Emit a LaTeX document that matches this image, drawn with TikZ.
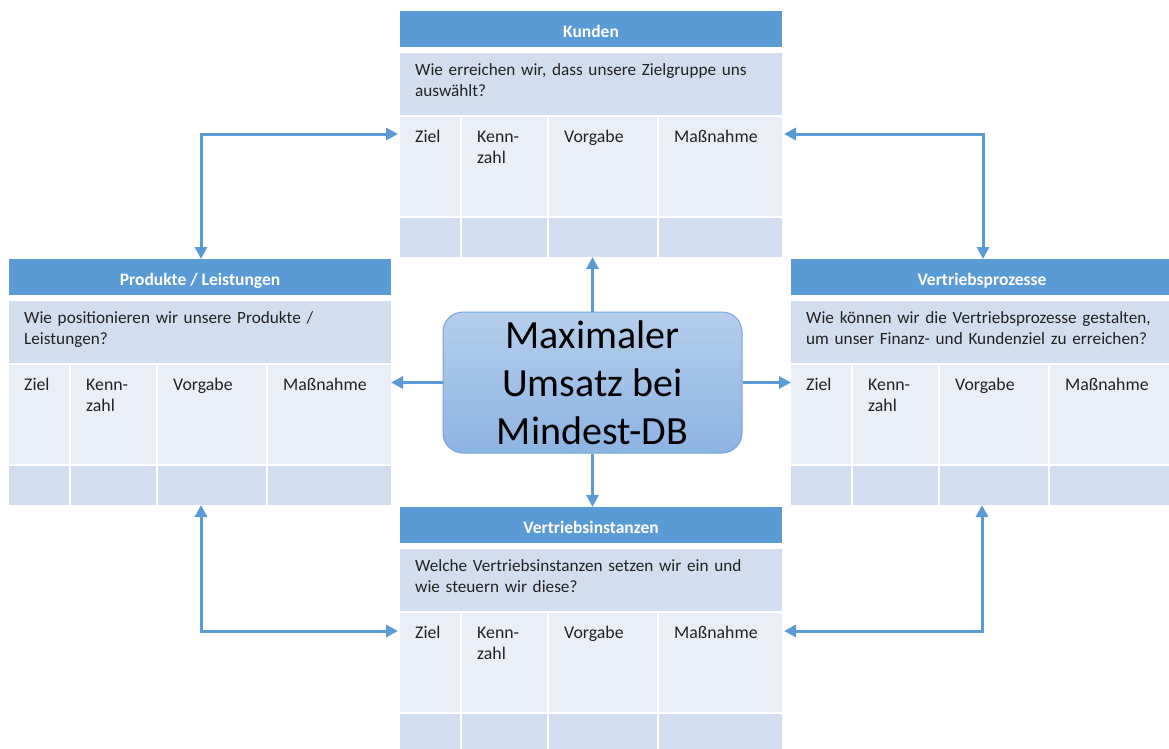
\documentclass[tikz,border=0pt]{standalone}
\usepackage{fontspec}
\setmainfont{Carlito}
\usetikzlibrary{arrows.meta,calc}

\definecolor{hdrblue}{HTML}{5B9BD5}
\definecolor{rowdark}{HTML}{D2DEEF}
\definecolor{rowlight}{HTML}{EAEFF7}
\definecolor{txt}{HTML}{222222}
\definecolor{hubtop}{HTML}{B5CEEB}
\definecolor{hubbot}{HTML}{8DB4E2}
\definecolor{hubline}{HTML}{76A5DA}

\tikzset{
  cell/.style={anchor=north west, inner sep=0pt, outer sep=0pt},
  hdr/.style={cell, fill=hdrblue, text=white,
    font=\fontsize{17.5}{20}\selectfont\bfseries,
    text height=16.5pt, text depth=0pt,
    minimum width=382pt, minimum height=36pt},
  qrow/.style={cell, fill=rowdark, minimum width=382pt, minimum height=62pt},
  mcell/.style={cell, fill=rowlight, minimum height=99pt},
  bcell/.style={cell, fill=rowdark, minimum height=39pt},
  qtext/.style={anchor=north west, inner sep=0pt, text width=370pt, align=left,
    font=\fontsize{17.2}{21}\selectfont, text=txt},
  lbl/.style={anchor=north west, inner sep=0pt, align=left,
    font=\fontsize{17.8}{20.7}\selectfont, text=txt},
  link/.style={draw=hdrblue, line width=3pt, -{Triangle[length=12pt,width=12pt]}},
  twoway/.style={draw=hdrblue, line width=3pt,
    {Triangle[length=12pt,width=12pt]}-{Triangle[length=12pt,width=12pt]}},
  hub/.style={rounded corners=20pt, minimum width=299pt, minimum height=141pt,
    top color=hubtop, bottom color=hubbot, draw=hubline, line width=1pt,
    align=center, inner sep=0pt, font=\fontsize{40}{48}\selectfont, text=black},
}

% one scorecard: name, left x, top y, title, guiding question
\newcommand\card[5]{%
  \node[hdr] (#1-h) at (#2,#3) {#4};
  \node[qrow] (#1-q) at (#2,#3+42) {};
  \node[qtext] (#1-qt) at (#2+15,#3+50) {\strut #5};
  \foreach \cn/\cx/\cw/\cl in {1/0/60/Ziel, 2/62/85/{Kenn-\\zahl}, 3/149/108/Vorgabe, 4/259/123/Maßnahme} {
    \node[mcell, minimum width=\cw pt] (#1-m\cn) at (#2+\cx,#3+106) {};
    \node[bcell, minimum width=\cw pt] (#1-b\cn) at (#2+\cx,#3+207) {};
    \node[lbl] (#1-l\cn) at (#2+\cx+15,#3+116.7) {\strut\cl};
  }%
}

\begin{document}
\begin{tikzpicture}[x=1pt,y=-1pt]
  \fill[white] (0,0) rectangle (1169,749);
  \useasboundingbox (0,0) rectangle (1169,749);

  \card{kd}{400}{11}{Kunden}{Wie erreichen wir, dass unsere Zielgruppe uns\\auswählt?}
  \card{pl}{9}{259}{Produkte / Leistungen}{Wie positionieren wir unsere Produkte /\\Leistungen?}
  \card{vp}{791}{259}{Vertriebsprozesse}{Wie können wir die Vertriebsprozesse gestalten,\\um unser Finanz- und Kundenziel zu erreichen?}
  \card{vi}{400}{507}{Vertriebsinstanzen}{Welche Vertriebsinstanzen setzen wir ein und\\wie steuern wir diese?}

  \node[hub] (goal) at (592.5,382.5) {Maximaler\\Umsatz bei\\Mindest-DB};

  % from the goal to the four scorecards
  \draw[link] (goal.north) -- (goal.north |- kd-b1.south);
  \draw[link] (goal.south) -- (goal.south |- vi-h.north);
  \draw[link] (goal.west) -- (goal.west -| pl-m4.east);
  \draw[link] (goal.east) -- (goal.east -| vp-m1.west);

  % links between neighbouring scorecards
  \draw[twoway] ($(kd-m1.north west)+(-2,17)$) -| ($(pl-h.north west)+(192,0)$);
  \draw[twoway] ($(kd-m4.north east)+(2,17)$) -| ($(vp-h.north west)+(192,0)$);
  \draw[twoway] ($(vi-m1.north west)+(-2,18)$) -| ($(pl-b1.south west)+(192,0)$);
  \draw[twoway] ($(vi-m4.north east)+(2,18)$) -| ($(vp-b1.south west)+(191,0)$);
\end{tikzpicture}
\end{document}
